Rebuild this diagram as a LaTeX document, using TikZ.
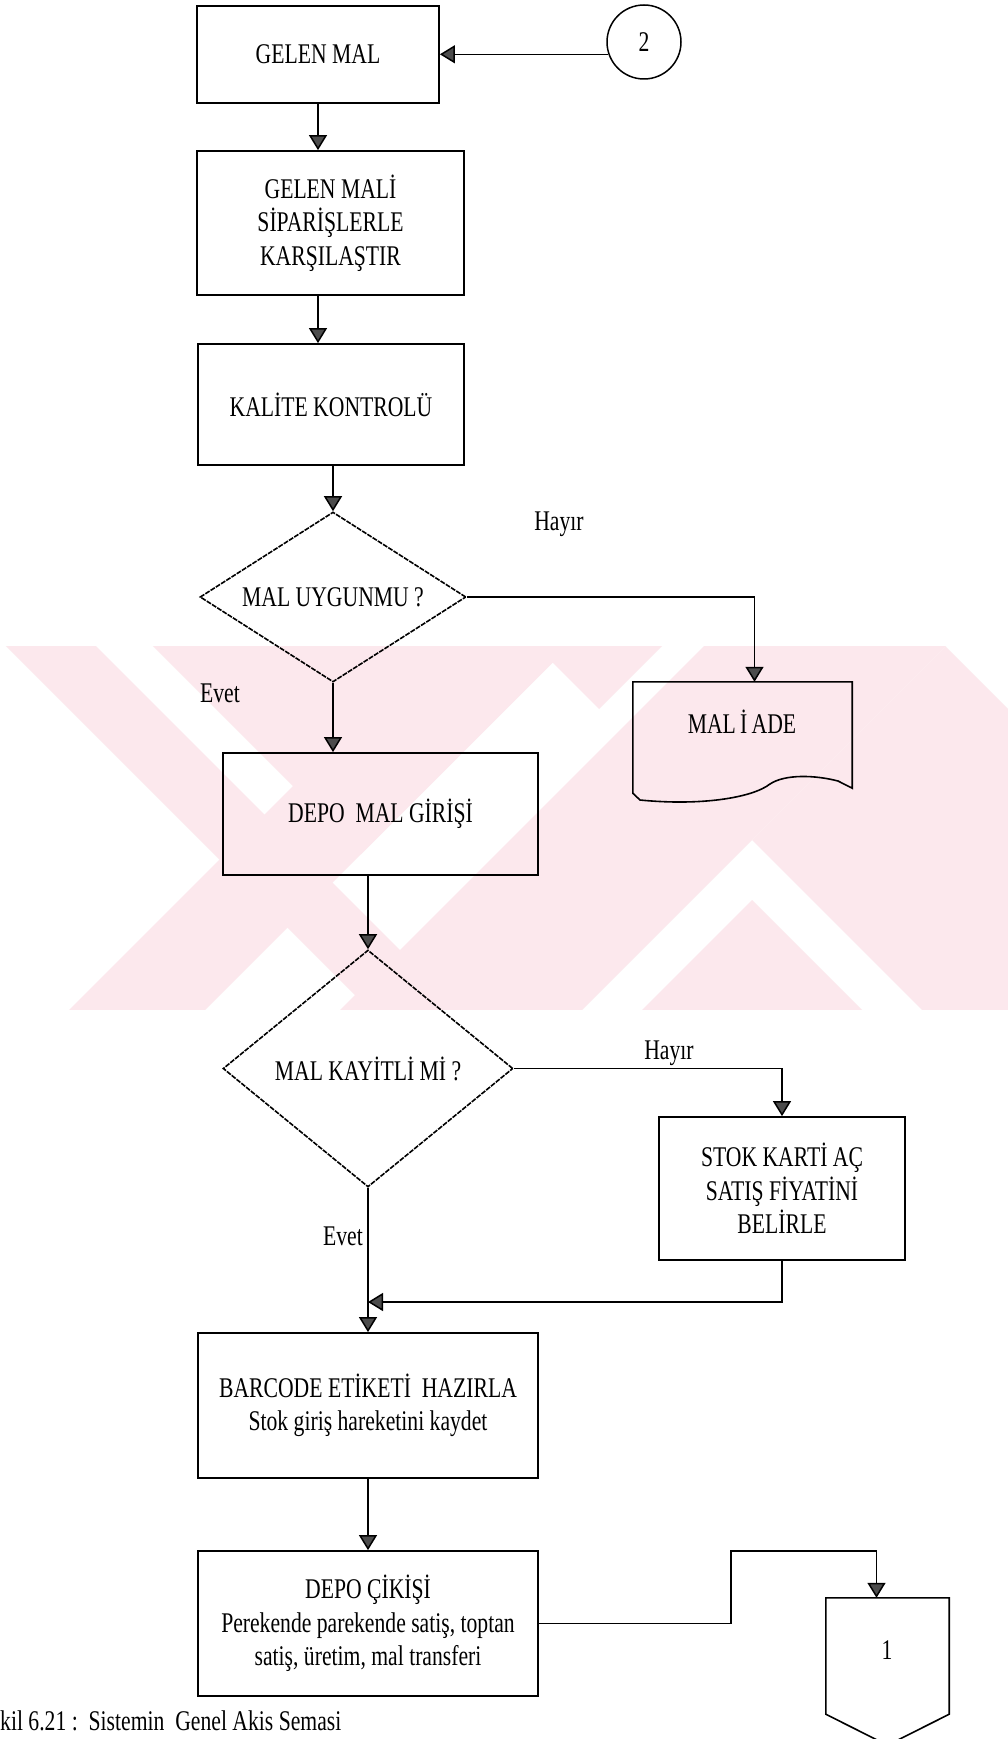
\documentclass[tikz,border=0pt]{standalone}
\usepackage{fontspec}
\setmainfont{Liberation Serif}[FakeStretch=0.76]
\usetikzlibrary{arrows.meta,shapes.geometric}

\definecolor{wmpink}{RGB}{252,232,237}

\begin{document}
\begin{tikzpicture}[x=1pt,y=-1pt,
  lbl/.style={font=\fontsize{28.5}{33.5}\selectfont, inner sep=0pt, align=center},
  proc/.style={lbl, draw, line width=1.8pt},
  dec/.style={lbl, draw, shape=diamond, line width=1.6pt, dash pattern=on 5pt off 1.2pt},
  conn/.style={line width=1.5pt},
  arr/.style={conn, -{Triangle[width=18pt,length=15pt,fill=black!70]}},
  outline/.style={line width=1.6pt},
]
\fill[white] (0,0) rectangle (1008,1739);
\useasboundingbox (0,0) rectangle (1008,1739);

% background emblem: pale diagonal bands
\begin{scope}
  \clip (0,646) rectangle (1008,1009);
  \fill[wmpink] (-40,600) -- (50,600) -- (500,1050) -- (410,1050) -- cycle;
  \fill[wmpink] (479,600) -- (615,600) -- (165,1050) -- (29,1050) -- cycle;
  \fill[wmpink] (107,600) -- (615,600) -- (361,854) -- cycle;
  \fill[wmpink] (615,600) -- (708,600) -- (599,709) -- (552.5,662.5) -- cycle;
  \fill[wmpink] (750,600) -- (992,600) -- (542,1050) -- (300,1050) -- cycle;
  \fill[wmpink] (752,840) -- (945.5,646.5) -- (1349,1050) -- (962,1050) -- cycle;
  \fill[wmpink] (752,900) -- (602,1050) -- (902,1050) -- cycle;
\end{scope}

% process steps
\node[proc, minimum width=242, minimum height=97] (g1) at (318,54.5) {GELEN MAL};
\node[lbl, draw, circle, line width=1.5pt, minimum size=74] (c2) at (644,42) {2};
\node[proc, minimum width=267, minimum height=144] (g2) at (330.5,223)
  {GELEN MALİ\\SİPARİŞLERLE\\KARŞILAŞTIR};
\node[proc, minimum width=266, minimum height=121] (k3) at (331,404.5) {KALİTE KONTROLÜ};
\node[dec, minimum width=266, minimum height=170, aspect=1.56] (d1) at (333,597) {MAL UYGUNMU ?};
\node[lbl] (h1) at (559,524) {Hayır};
\node[lbl] (e1) at (220,693) {Evet};

% returned goods document
\node[lbl, minimum width=219, minimum height=106] (mi) at (742.5,735) {};
\node[lbl] (mit) at (742,722) {MAL\hspace{0.15em}İ\hspace{0.15em}ADE};
\draw[outline] ([yshift=-5pt]mi.south west) -- (mi.north west) -- (mi.north east) -- (mi.south east)
  -- (838,781) .. controls (815,775) and (785,774) .. (770,784)
  .. controls (752,798) and (700,806) .. (640,800) -- cycle;

\node[proc, minimum width=315, minimum height=122] (dg) at (380.5,814) {DEPO\ \ MAL GİRİŞİ};
\node[dec, minimum width=290, minimum height=237, aspect=1.22] (d2) at (368,1068.5) {MAL KAYİTLİ Mİ ?};
\node[lbl] (h2) at (669,1053) {Hayır};
\node[proc, minimum width=246, minimum height=143] (st) at (782,1188.5)
  {STOK KARTİ AÇ\\SATIŞ FİYATİNİ\\BELİRLE};
\node[lbl, anchor=east] (e2) at (363,1236) {Evet};
\coordinate (mj) at (368,1302);
\node[proc, minimum width=340, minimum height=145] (bc) at (368,1405.5)
  {BARCODE ETİKETİ\ \ HAZIRLA\\Stok giriş hareketini kaydet};
\node[proc, minimum width=340, minimum height=145] (dc) at (368,1623.5)
  {DEPO ÇİKİŞİ\\Perekende parekende satiş, toptan\\satiş, üretim, mal transferi};

% off-page connector
\node[lbl, minimum width=123, minimum height=116] (p1) at (887.5,1656) {};
\node[lbl] (p1t) at (887,1650) {1};
\draw[outline] (p1.north west) -- (p1.north east) -- (p1.south east)
  -- ([yshift=-31pt]p1.south) -- (p1.south west) -- cycle;

\node[lbl, anchor=west] (cap) at (0,1721) {kil 6.21 :\ \ Sistemin\ \ Genel Akis Semasi};

% connectors
\coordinate (ax) at (318,0);
\coordinate (bend) at (731,1551);
\draw[arr] (c2.199) -- (c2.199 -| g1.east);
\draw[arr] (g1.south -| ax) -- (g2.north -| ax);
\draw[arr] (g2.south -| ax) -- (k3.north -| ax);
\draw[arr] (k3.south -| d1.north) -- (d1.north);
\draw[arr] (d1.east) -| ([xshift=12pt]mi.north);
\draw[arr] (d1.south) -- (d1.south |- dg.north);
\draw[arr] (dg.south -| d2.north) -- (d2.north);
\draw[arr] (d2.east) -| (st.north);
\draw[arr] (st.south) |- (mj);
\draw[arr] (d2.south) -- (d2.south |- bc.north);
\draw[arr] (bc.south) -- (dc.north);
\draw[arr] (dc.east) -| (bend) -| ([xshift=-11pt]p1.north);
\end{tikzpicture}
\end{document}
